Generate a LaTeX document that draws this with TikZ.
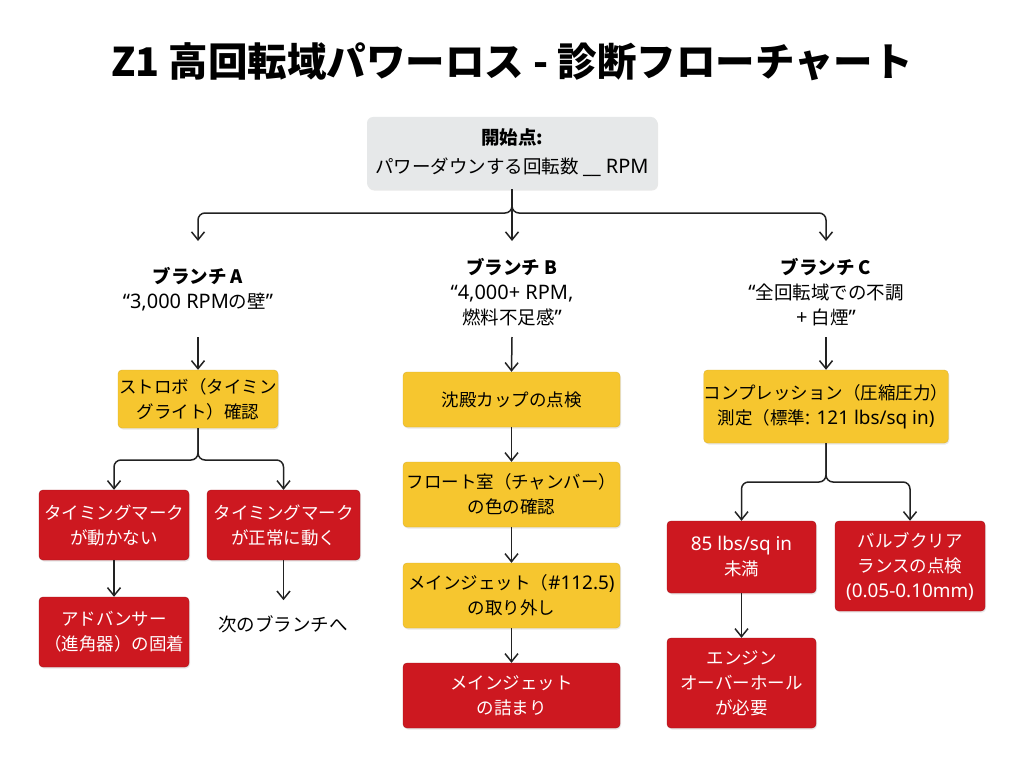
\documentclass[tikz,border=0pt]{standalone}
\usepackage{fontspec}
\setmainfont{Noto Sans CJK JP}
\newfontfamily\lt[Scale=1.08]{Noto Sans}
\usetikzlibrary{arrows.meta,shadows}
\definecolor{ybg}{HTML}{F6C62F}
\definecolor{rbg}{HTML}{CD1820}
\definecolor{gbg}{HTML}{E6E8E9}
\definecolor{ln}{HTML}{222222}
\begin{document}
\begin{tikzpicture}[x=1pt,y=-1pt,
  box/.style={rounded corners=4pt, align=center, inner sep=0pt,
    font=\fontsize{17.5}{25}\selectfont,
    drop shadow={opacity=0.18, shadow xshift=1pt, shadow yshift=-1.5pt}},
  ybox/.style={box, fill=ybg, draw=ybg!90!black, line width=0.4pt, text=black},
  rbox/.style={box, fill=rbg, draw=rbg!80!black, line width=0.4pt, text=white},
  lbl/.style={align=center, font=\fontsize{18.5}{25}\selectfont, text=black},
  arr/.style={draw=ln, line width=1.5pt, -{Straight Barb[length=8pt,width=13pt]}},
  conn/.style={draw=ln, line width=1.5pt, rounded corners=7pt}
]
\fill[white] (0,0) rectangle (1024,765);
\useasboundingbox (0,0) rectangle (1024,765);

% title
\node[font=\fontsize{39.5}{42}\selectfont\bfseries] (title) at (512,62) {Z1 高回転域パワーロス - 診断フローチャート};

% start
\node[box, fill=gbg, rounded corners=6pt, minimum width=290pt, minimum height=72pt, font=\fontsize{18.5}{29}\selectfont] (start) at (512,153)
  {\textbf{開始点:}\\パワーダウンする回転数 {\lt \_\_ RPM}};

% branch labels
\node[lbl] (lblA) at (198,289) {\textbf{ブランチ A}\\{\lt “3,000 RPM}の壁{\lt ”}};
\node[lbl] (lblB) at (512,292) {\textbf{ブランチ B}\\{\lt “4,000+ RPM,}\\燃料不足感{\lt ”}};
\node[lbl] (lblC) at (826,292) {\textbf{ブランチ C}\\{\lt “}全回転域での不調\\{\lt +} 白煙{\lt ”}};

\coordinate (tA) at (198,241);
\coordinate (tB) at (512,241);
\coordinate (tC) at (826,241);
\coordinate (jS) at (512,213);

\draw[arr] (start.south) -- (tB);
\draw[arr, conn] (start.south) -- (jS) -| (tA);
\draw[arr, conn] (start.south) -- (jS) -| (tC);

% column A
\node[ybox, minimum width=160pt, minimum height=58pt] (A1) at (198,399) {ストロボ（タイミン\\グライト）確認};
\node[rbox, minimum width=150pt, minimum height=70pt] (A2a) at (114,525) {タイミングマーク\\が動かない};
\node[rbox, minimum width=153pt, minimum height=70pt] (A2b) at (283.5,525) {タイミングマーク\\が正常に動く};
\node[rbox, minimum width=150pt, minimum height=70pt] (A3) at (114,632) {アドバンサー\\（進角器）の固着};
\node[lbl] (nextA) at (283,624) {次のブランチへ};

\coordinate (sA) at (198,337);
\draw[arr] (sA) -- (A1.north);
\coordinate (jA) at (198,460);
\draw[arr, conn] (A1.south) -- (jA) -| (A2a.north);
\draw[arr, conn] (A1.south) -- (jA) -| (A2b.north);
\draw[arr] (A2a.south) -- (A3.north);
\draw[arr] (A2b.south) -- ++(0,40);

% column B
\node[ybox, minimum width=217pt, minimum height=55pt] (B1) at (511.5,399.5) {沈殿カップの点検};
\node[ybox, minimum width=217pt, minimum height=65pt] (B2) at (511.5,494.5) {フロート室（チャンバー）\\の色の確認};
\node[ybox, minimum width=217pt, minimum height=65pt] (B3) at (511.5,595.5) {メインジェット（{\lt \#112.5)}\\の取り外し};
\node[rbox, minimum width=217pt, minimum height=65pt] (B4) at (511.5,695.5) {メインジェット\\の詰まり};

\coordinate (sB) at (512,337);
\draw[arr] (sB) -- (B1.north);
\draw[arr] (B1.south) -- (B2.north);
\draw[arr] (B2.south) -- (B3.north);
\draw[arr] (B3.south) -- (B4.north);

% column C
\node[ybox, minimum width=232pt, minimum height=73pt] (C1) at (826,406.5) {コンプレッション（圧縮圧力）\\測定（標準{\lt : 121 lbs/sq in)}};
\node[rbox, minimum width=149pt, minimum height=72pt] (C2a) at (741.5,557) {{\lt 85 lbs/sq in}\\未満};
\node[rbox, minimum width=150pt, minimum height=90pt] (C2b) at (910,566) {バルブクリア\\ランスの点検\\{\lt (0.05-0.10mm)}};
\node[rbox, minimum width=149pt, minimum height=90pt] (C3) at (741.5,683) {エンジン\\オーバーホール\\が必要};

\coordinate (sC) at (826,337);
\draw[arr] (sC) -- (C1.north);
\coordinate (jC) at (826,482);
\draw[arr, conn] (C1.south) -- (jC) -| (C2a.north);
\draw[arr, conn] (C1.south) -- (jC) -| (C2b.north);
\draw[arr] (C2a.south) -- (C3.north);
\end{tikzpicture}
\end{document}
